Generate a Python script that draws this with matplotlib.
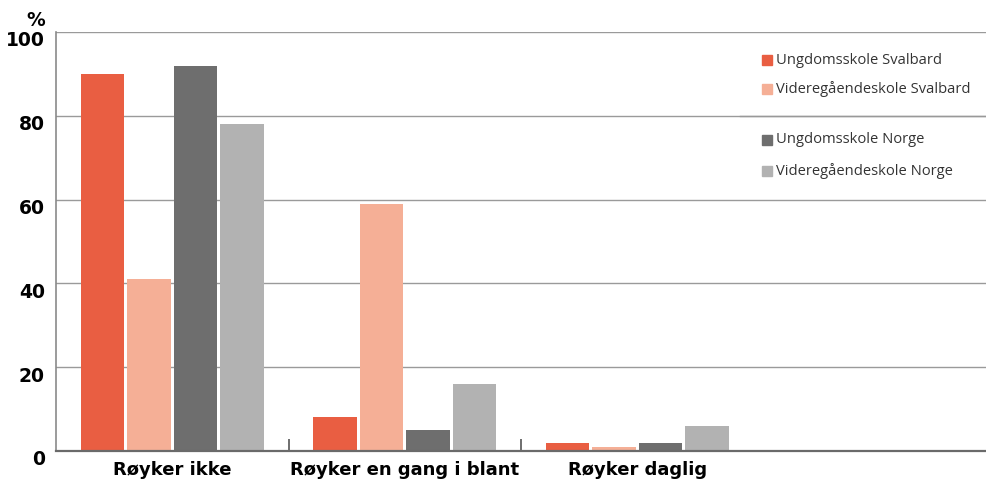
import numpy as np
import matplotlib
matplotlib.use("Agg")
import matplotlib.pyplot as plt
import matplotlib.transforms as mtransforms
from matplotlib.patches import Rectangle

# Data
categories = ["Røyker ikke", "Røyker en gang i blant", "Røyker daglig"]
series_names = [
    "Ungdomsskole Svalbard",
    "Videregåendeskole Svalbard",
    "Ungdomsskole Norge",
    "Videregåendeskole Norge",
]
ungdom_svalbard = [90, 8, 2]
vgs_svalbard = [41, 59, 1]
ungdom_norge = [92, 5, 2]
vgs_norge = [78, 16, 6]
y_ticks = [0, 20, 40, 60, 80, 100]

# Style
COLORS = ["#E95E42", "#F5AF96", "#6E6E6E", "#B2B2B2"]
BAR_WIDTH = 0.185
OFFSETS = [-0.3, -0.1, 0.1, 0.3]

fig = plt.figure(figsize=(9.86, 4.84), dpi=100)
ax = fig.add_axes([0.0568, 0.0682, 1 - 0.0568, 0.8657])

series = [ungdom_svalbard, vgs_svalbard, ungdom_norge, vgs_norge]
x = np.arange(len(categories))
for values, off, color in zip(series, OFFSETS, COLORS):
    ax.bar(x + off, values, width=BAR_WIDTH, color=color, zorder=3)

ax.set_xlim(-0.5, 3.5)
ax.set_ylim(0, 100)

# grid and spines
ax.set_yticks(y_ticks)
ax.yaxis.grid(True, color="#9a9a9a", linewidth=1.0, zorder=0)
for side in ["top", "right"]:
    ax.spines[side].set_visible(False)
ax.spines["left"].set_color("#8a8a8a")
ax.spines["left"].set_linewidth(1.2)
ax.spines["bottom"].set_color("#6a6a6a")
ax.spines["bottom"].set_linewidth(1.6)
ax.spines["bottom"].set_zorder(4)

# y tick labels
ax.tick_params(axis="y", length=0, pad=8, labelsize=13.5)
shift = mtransforms.ScaledTranslation(0, -7 / 100, fig.dpi_scale_trans)
for lbl in ax.get_yticklabels():
    lbl.set_fontweight("bold")
    lbl.set_transform(lbl.get_transform() + shift)

# x tick labels and group separators
ax.set_xticks(x)
ax.set_xticklabels(categories, fontsize=13, fontweight="bold")
ax.tick_params(axis="x", which="major", length=0, pad=7)
ax.set_xticks([0.5, 1.5], minor=True)
ax.tick_params(axis="x", which="minor", direction="in", length=9,
               width=1.2, color="#555555")

fig.text(0.036, 0.957, "%", ha="center", va="center",
         fontsize=13.5, fontweight="bold")

# legend (manual, with separator line)
leg_y = [0.876, 0.816, 0.711, 0.647]
for name, color, yy in zip(series_names, COLORS, leg_y):
    fig.patches.append(Rectangle((0.773, yy - 0.011), 0.0101, 0.0207,
                                 transform=fig.transFigure, color=color))
    fig.text(0.787, yy, name, ha="left", va="center", fontsize=10.6,
             color="#333333", family="Open Sans")
fig.add_artist(plt.Line2D([0.751, 1.0], [0.761, 0.761],
                          transform=fig.transFigure, color="#999999", lw=1))

fig.savefig("out.png", dpi=100)
